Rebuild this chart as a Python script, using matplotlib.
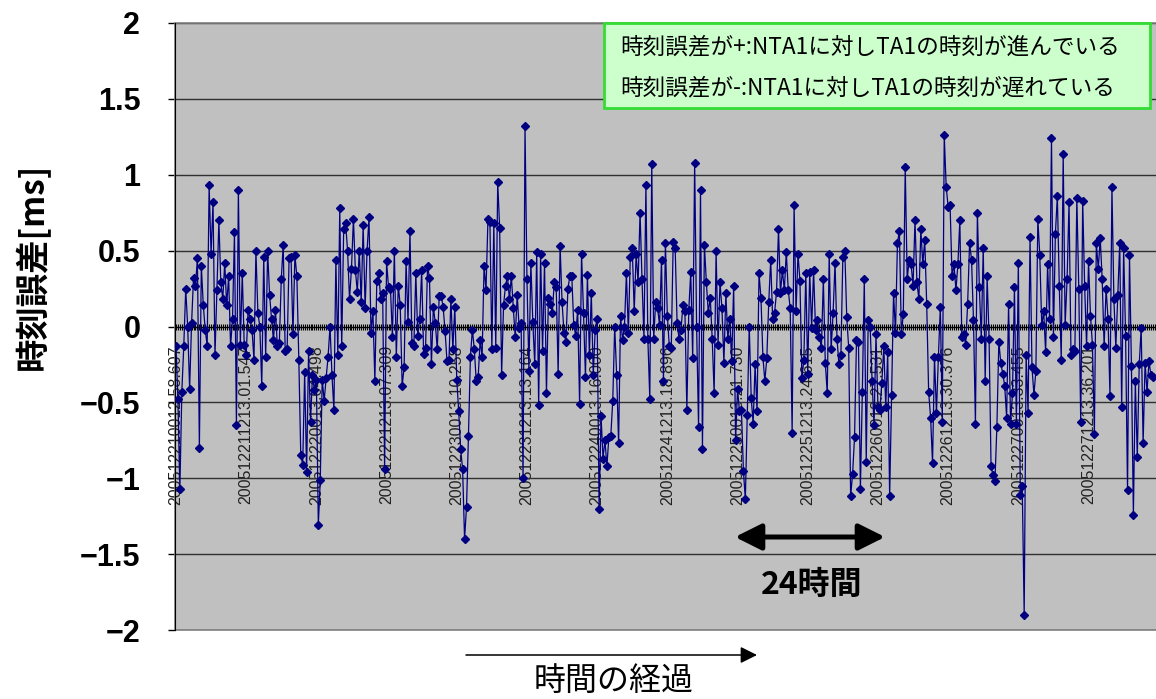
import numpy as np
import matplotlib
matplotlib.use('Agg')
import matplotlib.pyplot as plt
from matplotlib.ticker import FixedLocator, MultipleLocator
from matplotlib.patches import Rectangle

JP = ['Noto Sans CJK JP', 'DejaVu Sans']

# time error [ms], one value per sample (20 min interval)
err_a = [-0.13, -0.48, -1.07, -0.43, -0.13, 0.25, 0.0, -0.41, 0.02, 0.32,
         0.27, 0.45, -0.8, 0.4, 0.14, -0.02, -0.13, 0.93, 0.48, 0.82,
         -0.19, 0.24, 0.7, 0.29, 0.18, 0.42, 0.14, 0.33, -0.13, 0.05,
         0.62, -0.65, 0.9, -0.12, 0.35, -0.12, -0.19, 0.11, 0.05, -0.02,
         -0.22, 0.5, 0.09, 0.0, -0.39, 0.46, -0.2, 0.5, 0.21, 0.05,
         -0.09, 0.11, -0.13, -0.11, 0.31, 0.54, -0.16, -0.15, 0.45, 0.46,
         -0.05, 0.47, 0.33, -0.22, -0.85, -0.91, -0.3, -0.96, -0.16, -0.63,
         -0.32, -0.42, -0.35, -1.31, -1.01, -0.35, -0.49, -0.34, -0.2, 0.0,
         -0.32, -0.55, 0.44, -0.19, 0.78, -0.13, 0.64, 0.68, 0.5, 0.18,
         0.38, 0.71, 0.37, 0.23, 0.5, 0.16, 0.67, 0.12, 0.5, 0.72, -0.04]
err_b = [0.1, -0.36, 0.3, 0.35, 0.18, 0.22, -0.94, 0.43, 0.26, 0.25,
         -0.07, 0.5, -0.2, 0.27, 0.14, -0.39, -0.27, 0.43, 0.03, 0.63,
         -0.11, -0.13, 0.35, -0.06, 0.05, 0.37, -0.18, -0.14, 0.4, 0.32,
         -0.25, 0.13, 0.02, -0.15, 0.2, 0.2, 0.13, -0.03, -0.23, -0.22,
         0.18, -0.15, 0.13, -0.35, -0.56, -0.81, -0.94, -1.4, -1.19, -0.72,
         -0.2, -0.02, -0.15, -0.36, -0.33, -0.09, -0.2, 0.4, 0.24, 0.71,
         0.69, -0.15, 0.68, -0.14, 0.95, 0.65, -0.32, 0.14, 0.27, 0.33,
         0.18, 0.33, 0.12, -0.07, 0.21, -0.01, 0.02, -1.0, 1.32, 0.31,
         -0.29, 0.42, 0.03, -0.25, 0.49, -0.52, 0.48, -0.16, 0.42, -0.44,
         0.19, 0.15, 0.09, 0.29, 0.26, -0.31, 0.53, 0.16, -0.04, -0.1,
         0.25, 0.33]
err_c = [0.33, 0.01, -0.06, 0.11, -0.51, 0.48, 0.09, -0.33, 0.34, -0.19,
         0.22, -0.32, -0.02, 0.05, -1.2, -0.59, -0.87, -0.75, -0.92, -0.73,
         -0.72, -0.49, 0.0, -0.32, -0.77, 0.07, -0.09, 0.0, 0.35, -0.04,
         0.46, 0.52, 0.1, 0.48, 0.29, 0.75, 0.31, -0.08, 0.93, -0.08,
         -0.48, 1.07, -0.08, 0.16, 0.12, 0.01, 0.44, -0.36, 0.55, 0.07,
         -0.13, -0.14, 0.56, 0.52, 0.02, -0.08, -0.02, 0.14, 0.1, -0.55,
         0.11, 0.36, -0.21, 1.08, 0.0, -0.66, 0.9, -0.81, 0.54, 0.29,
         0.09, 0.19, -0.08, -0.44, 0.5, -0.12, 0.29, 0.12, -0.24, 0.22,
         -0.08, 0.05, -0.23, 0.27, -0.75, -0.41, -0.56, -0.55, -0.95, -1.14,
         -0.58, 0.0, -0.47, -0.64, -0.25, -0.56, 0.35, 0.19, -0.2]
err_d = [-0.36, -0.21, 0.16, 0.44, 0.05, 0.09, 0.23, 0.64, 0.22, 0.37,
         0.24, 0.49, 0.24, 0.12, -0.7, 0.8, 0.1, 0.48, 0.3, -0.34,
         -0.22, 0.35, -0.31, 0.36, -0.01, 0.37, -0.02, 0.04, -0.07, -0.14,
         0.31, -0.24, -0.44, 0.48, -0.15, 0.09, 0.42, -0.08, -0.25, -0.19,
         0.46, 0.5, 0.06, -0.14, -1.12, -0.97, -0.73, -0.09, -0.1, -1.07,
         -0.43, 0.31, -0.89, 0.04, 0.0, -0.36, -0.65, -0.05, -0.53, -0.55,
         -0.37, -0.13, -0.53, -0.17, -1.12, -0.45, 0.22, -0.04, 0.55, 0.63,
         -0.05, 0.08, 1.05, 0.31, 0.44, 0.41, 0.27, 0.7, 0.29, 0.18,
         0.64, 0.41, 0.57, 0.15, -0.43, -0.6, -0.9, -0.2, -0.57, -0.2,
         0.13, -0.63, 1.26, 0.92, 0.79, 0.8, 0.33, 0.41, 0.24, 0.41,
         0.7, -0.07]
err_e = [-0.05, -0.12, 0.15, 0.55, 0.44, 0.04, -0.64, 0.75, 0.26, -0.08,
         0.52, -0.36, 0.33, -0.08, -0.92, -0.98, -1.02, -0.66, -0.1, -0.24,
         -0.31, -0.39, -0.6, 0.15, -0.64, -0.44, 0.26, -0.64, 0.42, -1.11,
         -1.05, -1.9, -0.19, -0.57, 0.59, -0.27, -0.45, -0.29, 0.71, 0.47,
         0.01, 0.1, -0.17, 0.41, 0.05, 1.24, -0.07, 0.61, 0.86, 0.27,
         -0.22, 1.14, 0.01, 0.31, 0.82, -0.19, -0.15, -0.16, 0.85, 0.25,
         -0.63, 0.83, 0.27, -0.13, 0.43, 0.07, -0.12, -0.71, 0.55, 0.38,
         0.58, 0.31, -0.13, 0.25, 0.05, -0.46, 0.92, 0.18, -0.14, 0.21,
         0.55, -0.53, 0.52, -0.06, -1.08, 0.47, -0.26, -1.24, -0.36, -0.86,
         -0.25, -0.01, -0.77, -0.24, -0.43, -0.23, -0.32, -0.33]

time_labels = ['200512210012.58.607', '200512211213.01.547', '200512220013.04.498',
               '200512221213.07.309', '200512230013.10.258', '200512231213.13.164',
               '200512240013.16.000', '200512241213.18.896', '200512250013.21.730',
               '200512251213.24.615', '200512260013.27.531', '200512261213.30.376',
               '200512270013.33.455', '200512271213.36.201']
label_step = 36   # one label every 12 hours

yticks = [-2, -1.5, -1, -0.5, 0, 0.5, 1, 1.5, 2]
ytick_labels = ['\u22122', '\u22121.5', '\u22121', '\u22120.5', '0', '0.5', '1', '1.5', '2']

err = np.array(err_a + err_b + err_c + err_d + err_e)
idx = np.arange(len(err))

W, H = 1156, 699
fig = plt.figure(figsize=(W / 100, H / 100), dpi=100)
ax = fig.add_axes([175 / W, 1 - 630 / H, 1 - 175 / W, (630 - 23) / H])
ax.set_facecolor('#c0c0c0')

ax.plot(idx, err, color='#000080', lw=0.9, marker='D', markersize=4.2,
        markerfacecolor='#000080', markeredgecolor='#000080', zorder=3)

ax.set_xlim(-0.5, 502.6)
ax.set_ylim(-2, 2)

# value axis
ax.set_yticks(yticks)
ax.set_yticklabels(ytick_labels, fontfamily='Liberation Sans', fontweight='bold', fontsize=22)
ax.tick_params(axis='y', direction='out', length=5, width=1, pad=20)
ax.yaxis.grid(True, color='#303030', lw=1)
ax.set_axisbelow(True)

# category axis crossing at zero, one tick per sample
ax.spines['bottom'].set_position(('data', 0))
ax.spines['bottom'].set_color('black')
ax.xaxis.set_major_locator(FixedLocator(np.arange(len(time_labels)) * label_step))
ax.xaxis.set_minor_locator(MultipleLocator(1))
ax.set_xticklabels(time_labels, rotation=90, fontfamily='Liberation Sans',
                   fontsize=11.5, color='#222222')
ax.tick_params(axis='x', which='both', direction='inout', length=5, width=0.8, pad=11)
for s in ['top', 'right']:
    ax.spines[s].set_visible(False)
ax.spines['left'].set_color('black')
ax.add_patch(Rectangle((0, 0), 1.02, 1, transform=ax.transAxes, fill=False,
                       edgecolor='#808080', lw=1.2, clip_on=False, zorder=1))

fig.text(32 / W, 1 - 266 / H, '時刻誤差[ms]', rotation=90, ha='center', va='center',
         family=JP, fontweight='bold', fontsize=24)

# note box
fig.patches.append(Rectangle((604 / W, 1 - 108 / H), 546 / W, 85 / H,
                             transform=fig.transFigure, facecolor='#ccffcc',
                             edgecolor='#33dd33', lw=2, zorder=5))
fig.text(620 / W, 1 - 47 / H, '時刻誤差が+:NTA1に対しTA1の時刻が進んでいる',
         family=JP, fontsize=16.3, va='center', zorder=6)
fig.text(620 / W, 1 - 88 / H, '時刻誤差が-:NTA1に対しTA1の時刻が遅れている',
         family=JP, fontsize=16.3, va='center', zorder=6)

# 24 hour span
ax.annotate('', xy=(885, H - 537), xytext=(735, H - 537), xycoords='figure pixels',
            textcoords='figure pixels',
            arrowprops=dict(arrowstyle='<|-|>', lw=3.6, color='black', mutation_scale=40,
                            shrinkA=0, shrinkB=0))
fig.text(812 / W, 1 - 585 / H, '24時間', family=JP, fontweight='bold', fontsize=23,
         ha='center', va='center')

# time direction
ax.annotate('', xy=(757, H - 655), xytext=(466, H - 655), xycoords='figure pixels',
            textcoords='figure pixels',
            arrowprops=dict(arrowstyle='-|>', lw=1.1, color='black', mutation_scale=25,
                            shrinkA=0, shrinkB=0))
fig.text(614 / W, 1 - 681 / H, '時間の経過', family=JP, fontsize=23,
         ha='center', va='center')

fig.savefig('out.png', dpi=100)
